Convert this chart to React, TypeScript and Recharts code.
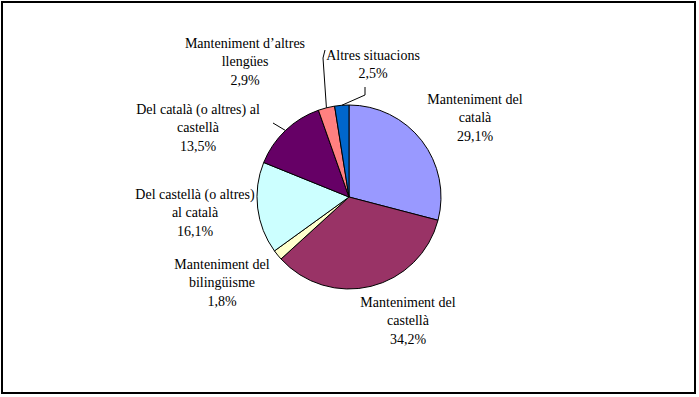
import { PieChart, Pie, Cell } from "recharts";

const categories = [
  ["Manteniment del", "català"],
  ["Manteniment del", "castellà"],
  ["Manteniment del", "bilingüisme"],
  ["Del castellà (o altres)", "al català"],
  ["Del català (o altres) al", "castellà"],
  ["Manteniment d’altres", "llengües"],
  ["Altres situacions"],
];
const values = [29.1, 34.2, 1.8, 16.1, 13.5, 2.9, 2.5];
const valueLabels = ["29,1%", "34,2%", "1,8%", "16,1%", "13,5%", "2,9%", "2,5%"];
const colors = ["#9999FF", "#993366", "#FFFFCC", "#CCFFFF", "#660066", "#FF8080", "#0066CC"];

// label centres relative to the pie centre, and leader line bends
const labelOffsets = [
  [126, -80], [59, 123], [-127, 85], [-154, 15], [-151, -70], [-104, -136], [24, -133],
];
const leaders: Record<number, number[][]> = {
  4: [[-76, -74]],
  5: [[-26, -139], [-24, -147]],
  6: [[16, -102], [16, -110]],
};

const RAD = Math.PI / 180;
const LINE_H = 18.5;
const FONT = "'Liberation Serif', 'Times New Roman', Times, serif";

const data = values.map((v, i) => ({ name: categories[i].join(" "), value: v }));

const renderLabel = (props: any) => {
  const { cx, cy, midAngle, outerRadius, index } = props;
  const lines = [...categories[index], valueLabels[index]];
  const [dx, dy] = labelOffsets[index];
  const x = cx + dx;
  const top = cy + dy - ((lines.length - 1) * LINE_H) / 2;
  const ex = cx + outerRadius * Math.cos(-midAngle * RAD);
  const ey = cy + outerRadius * Math.sin(-midAngle * RAD);
  const bends = leaders[index];
  return (
    <g key={`l${index}`}>
      {bends && (
        <polyline
          points={[[ex, ey], ...bends.map(([bx, by]) => [cx + bx, cy + by])]
            .map((p) => p.join(","))
            .join(" ")}
          fill="none"
          stroke="#000"
          strokeWidth={1}
        />
      )}
      <text
        x={x}
        y={top}
        textAnchor="middle"
        dominantBaseline="central"
        style={{ fontFamily: FONT, fontSize: 14 }}
        fill="#000"
      >
        {lines.map((t, j) => (
          <tspan key={j} x={x} y={top + j * LINE_H}>
            {t}
          </tspan>
        ))}
      </text>
    </g>
  );
};

export default function App() {
  return (
    <div style={{ position: "absolute", left: 0, top: 0, width: 699, height: 397, background: "#fff" }}>
      <div
        style={{
          position: "absolute",
          left: 1,
          top: 1,
          width: 695,
          height: 393,
          boxSizing: "border-box",
          border: "2px solid #000",
        }}
      />
      <div style={{ position: "absolute", left: 0, top: 0 }}>
        <PieChart width={699} height={397} margin={{ top: 0, right: 0, bottom: 0, left: 0 }}>
          <Pie
            data={data}
            dataKey="value"
            cx={349}
            cy={197}
            outerRadius={92}
            startAngle={90}
            endAngle={-270}
            stroke="#000"
            strokeWidth={1}
            label={renderLabel}
            labelLine={false}
            isAnimationActive={false}
          >
            {data.map((_, i) => (
              <Cell key={i} fill={colors[i]} />
            ))}
          </Pie>
        </PieChart>
      </div>
    </div>
  );
}
